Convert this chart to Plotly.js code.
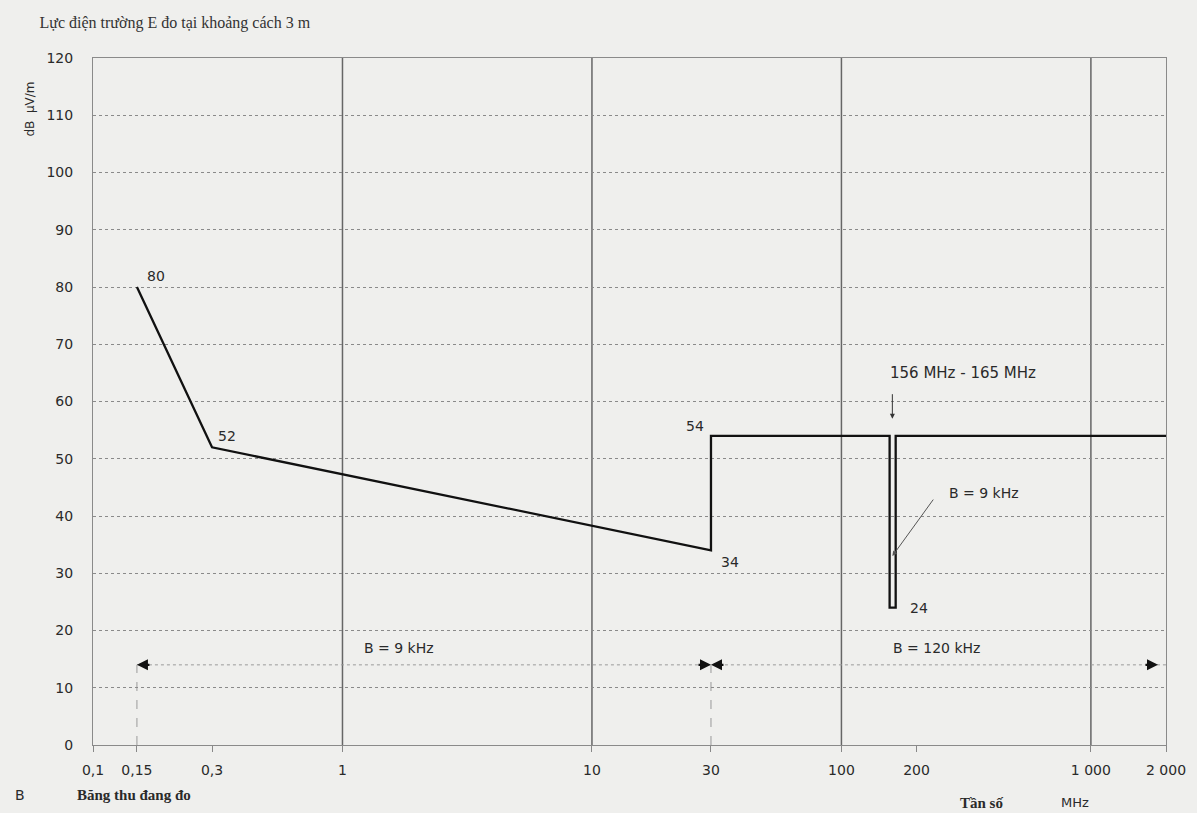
<!DOCTYPE html>
<html>
<head>
<meta charset="utf-8">
<script src="https://cdn.plot.ly/plotly-3.0.1.min.js"></script>
<style>html,body{margin:0;padding:0;background:#efefed;}</style>
</head>
<body>
<div id="chart" style="width:1197px;height:813px;"></div>
<script>
// Limit curve: field strength (dB µV/m) vs frequency (MHz)
const freqMHz = [0.15, 0.3, 30, 30, 156, 156, 165, 165, 2000];
const levelDb = [80, 52, 34, 54, 54, 24, 24, 54, 54];

// Axis ticks
const xTickVals = [0.1, 0.15, 0.3, 1, 10, 30, 100, 200, 1000, 2000];
const xTickText = ["0,1", "0,15", "0,3", "1", "10", "30", "100", "200", "1 000", "2 000"];
const xGridVals = [1, 10, 100, 1000];
const yTickVals = [0, 10, 20, 30, 40, 50, 60, 70, 80, 90, 100, 110, 120];

// Measurement bandwidth bands
const bandEdges = [0.15, 30, 2000];
const bandLevel = 14;
const bandLabels = ["B = 9 kHz", "B = 120 kHz"];
const bandLabelX = [1.2, 158];
const bandLabelY = 17;

// Point labels
const pointLabels = ["80", "52", "54", "34", "24"];

// Notch
const notchLabel = "156 MHz - 165 MHz";
const notchBw = "B = 9 kHz";
const notchCenter = 160;

const sans = "DejaVu Sans, Arial, sans-serif";
const serif = "Liberation Serif, Times New Roman, serif";
const txt = "#2a2a2a";
const L = v => Math.log10(v);

const traces = [
  {
    x: [bandEdges[0], bandEdges[2]], y: [bandLevel, bandLevel],
    mode: "lines", line: {color: "#9a9a9a", width: 1, dash: "dot"},
    hoverinfo: "skip", showlegend: false
  },
  {
    x: freqMHz, y: levelDb, mode: "lines",
    line: {color: "#111", width: 2.3},
    showlegend: false
  }
];

const shapes = [];
xGridVals.forEach(v => shapes.push({
  type: "line", xref: "x", yref: "paper", x0: v, x1: v, y0: 0, y1: 1,
  line: {color: "#666", width: 1.5}, layer: "below"
}));
[bandEdges[0], bandEdges[1]].forEach(v => shapes.push({
  type: "line", xref: "x", yref: "y", x0: v, x1: v, y0: 0, y1: bandLevel,
  line: {color: "#9a9a9a", width: 1, dash: "dash"}, layer: "below"
}));

const ann = [];
function lbl(text, x, y, xa, ya, xs, ys, size) {
  ann.push({text: text, x: L(x), y: y, xref: "x", yref: "y", showarrow: false,
    xanchor: xa, yanchor: ya, xshift: xs || 0, yshift: ys || 0,
    font: {family: sans, size: size || 14, color: txt}});
}
lbl(pointLabels[0], freqMHz[0], levelDb[0], "left", "bottom", 8, 1);
lbl(pointLabels[1], freqMHz[1], levelDb[1], "left", "bottom", 4, 1);
lbl(pointLabels[2], freqMHz[3], levelDb[3], "right", "bottom", -5, 0);
lbl(pointLabels[3], freqMHz[2], levelDb[2], "left", "top", 8, -2);
lbl(pointLabels[4], freqMHz[6], levelDb[6], "left", "middle", 12, 0);
lbl(notchLabel, notchCenter, 65, "left", "middle", -4, 0, 15);
lbl(notchBw, notchCenter, 44, "left", "middle", 55, 0);
lbl(bandLabels[0], bandLabelX[0], bandLabelY, "left", "middle", 0, 0);
lbl(bandLabels[1], bandLabelX[1], bandLabelY, "left", "middle", 0, 0);

// notch arrows
ann.push({x: L(notchCenter), y: 57, xref: "x", yref: "y", text: "", showarrow: true,
  ax: 0, ay: -26, arrowhead: 2, arrowsize: 1, arrowwidth: 1, arrowcolor: "#333"});
ann.push({x: L(notchCenter), y: 33, xref: "x", yref: "y", text: "", showarrow: true,
  ax: 42, ay: -58, arrowhead: 2, arrowsize: 1, arrowwidth: 1, arrowcolor: "#555"});

// band edge arrows
function arr(x, dir, shift) {
  ann.push({x: L(x), y: bandLevel, xref: "x", yref: "y", text: "", showarrow: true,
    ax: dir * 14, ay: 0, xshift: shift || 0, arrowhead: 2, arrowsize: 1, arrowwidth: 2.2, arrowcolor: "#111"});
}
arr(bandEdges[0], 1);
arr(bandEdges[1], -1);
arr(bandEdges[1], 1);
arr(bandEdges[2], -1, -8);

// axis titles and captions
ann.push({text: "dB  μV/m", xref: "paper", yref: "y", x: -0.068, y: 111, textangle: -90,
  showarrow: false, font: {family: sans, size: 12, color: txt}});
ann.push({text: "B", xref: "paper", yref: "paper", x: -0.068, y: -0.073, xanchor: "center", yanchor: "middle",
  showarrow: false, font: {family: sans, size: 14, color: txt}});
ann.push({text: "<b>Băng thu đang đo</b>", xref: "paper", yref: "paper", x: -0.017, y: -0.073,
  xanchor: "left", yanchor: "middle", showarrow: false, font: {family: serif, size: 15, color: txt}});
ann.push({text: "<b>Tần số</b>", xref: "paper", yref: "paper", x: 0.806, y: -0.0844,
  xanchor: "left", yanchor: "middle", showarrow: false, font: {family: serif, size: 15, color: txt}});
ann.push({text: "MHz", xref: "paper", yref: "paper", x: 0.915, y: -0.0844,
  xanchor: "center", yanchor: "middle", showarrow: false, font: {family: sans, size: 13, color: txt}});

const layout = {
  width: 1197, height: 813,
  margin: {l: 93, r: 31, t: 58, b: 68},
  paper_bgcolor: "#efefed", plot_bgcolor: "#efefed",
  title: {text: "Lực điện trường E đo tại khoảng cách 3 m", xref: "container", yref: "container",
    x: 0.033, xanchor: "left", y: 0.972, yanchor: "middle",
    font: {family: serif, size: 16, color: "#333"}},
  xaxis: {type: "log", range: [-1, Math.log10(2000)], tickvals: xTickVals, ticktext: xTickText,
    showgrid: false, zeroline: false, showline: true, mirror: true, linecolor: "#8a8a8a", linewidth: 1,
    ticks: "outside", ticklen: 6, tickcolor: "#888", ticklabelstandoff: 6,
    tickfont: {family: sans, size: 14, color: txt}, fixedrange: true},
  yaxis: {range: [0, 120], tickvals: yTickVals, showgrid: true, gridcolor: "#8a8a8a", griddash: "dot",
    gridwidth: 1, zeroline: false, showline: true, mirror: true, linecolor: "#8a8a8a", linewidth: 1,
    ticks: "", ticklabelstandoff: 16,
    tickfont: {family: sans, size: 14, color: txt}, fixedrange: true},
  shapes: shapes,
  annotations: ann,
  showlegend: false
};

Plotly.newPlot("chart", traces, layout, {displayModeBar: false, staticPlot: true});
</script>
</body>
</html>
